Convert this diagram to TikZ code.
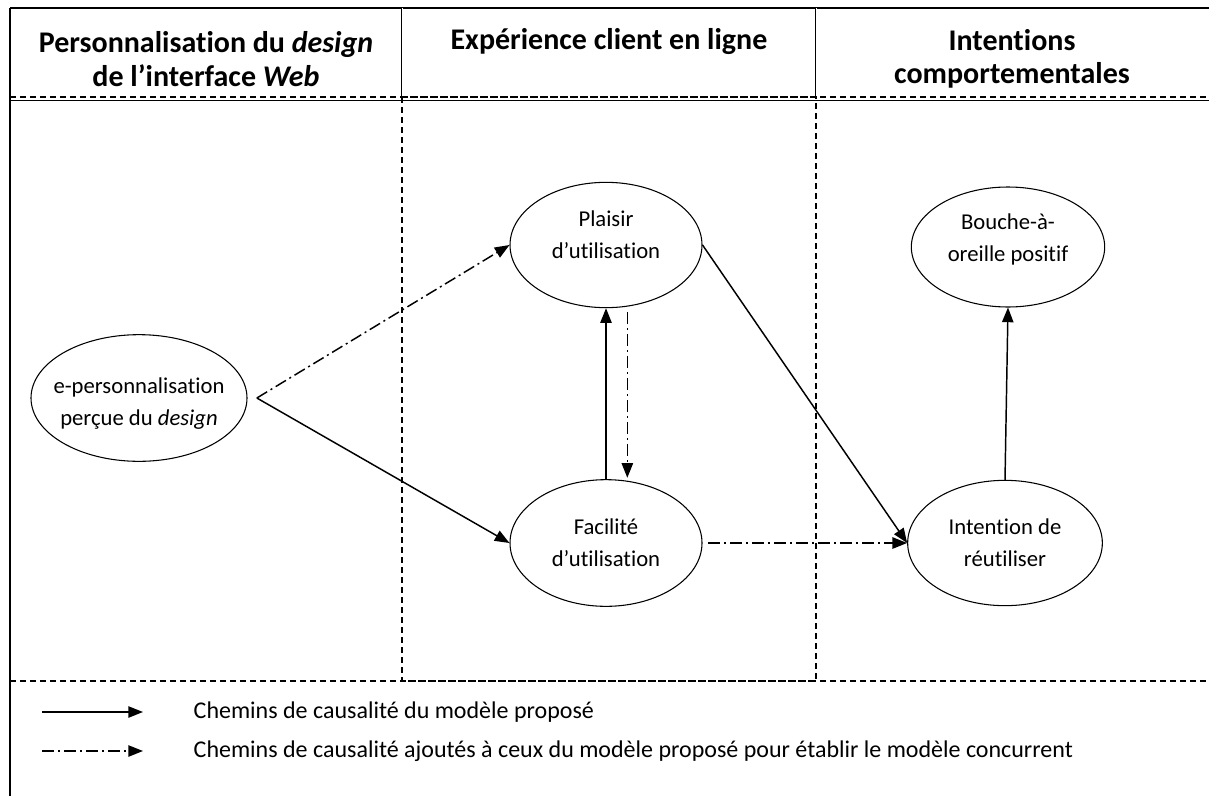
\documentclass[tikz,border=0pt]{standalone}
\usepackage{fontspec}
\setmainfont{Carlito}[Ligatures=NoCommon]
\usetikzlibrary{arrows.meta,shapes.geometric}

\tikzset{
  concept/.style={draw, ellipse, line width=0.8pt, inner sep=0pt},
  conceptText/.style={align=center, font=\fontsize{17}{24}\selectfont},
  header/.style={align=center, font=\bfseries\fontsize{22.5}{25}\selectfont},
  proposed/.style={line width=1.1pt, -{Triangle[length=11pt,width=8.5pt]}},
  added/.style={proposed, dash pattern=on 9pt off 3pt on 1.5pt off 3pt},
  zone/.style={line width=0.9pt, dash pattern=on 4.5pt off 3pt},
  legendText/.style={anchor=west, font=\fontsize{18}{20}\selectfont}
}

\begin{document}
\begin{tikzpicture}[x=0.75pt, y=-0.75pt]
        \useasboundingbox (0,0) rectangle (1209,796);

        % Frame and header row
        \draw[line width=2.2pt] (10,8) -- (1209,8);
        \draw[line width=1.5pt] (10,8) -- (10,796);
        \draw[double, line width=0.6pt] (402,8) -- (402,98);
        \draw[double, line width=0.6pt] (816,8) -- (816,98);
        \draw[zone] (10,97) -- (1209,97);
        \draw[line width=0.6pt] (10,100) -- (1209,100);
        \node[header] (hPerso) at (206,59) {Personnalisation du \textit{design}\\de l'interface \textit{Web}};
        \node[header] (hExp) at (609,42) {Expérience client en ligne};
        \node[header] (hIntent) at (1012,59) {Intentions\\comportementales};

        % Online experience zone
        \draw[zone, line width=1.3pt] (402,97) rectangle (816,681);
        \draw[zone] (10,681) -- (1209,681);

        % Constructs
        \node[concept, minimum width=162pt, minimum height=95pt,
          label={[conceptText, yshift=-4pt]center:e-personnalisation\\perçue du \textit{design}}] (perso) at (139,398) {};
        \node[concept, minimum width=144pt, minimum height=94pt,
          label={[conceptText, yshift=8pt]center:Plaisir\\d'utilisation}] (plaisir) at (606,245) {};
        \node[concept, minimum width=144pt, minimum height=95pt,
          label={[conceptText]center:Facilité\\d'utilisation}] (facilite) at (606,543) {};
        \node[concept, minimum width=145pt, minimum height=90pt,
          label={[conceptText, yshift=6pt]center:Bouche-à-\\oreille positif}] (bouche) at (1008,247) {};
        \node[concept, minimum width=146pt, minimum height=94pt,
          label={[conceptText]center:Intention de\\réutiliser}] (intention) at (1005,543) {};

        % Causal paths
        \draw[added] ([xshift=7pt]perso.east) -- (plaisir.west);
        \draw[proposed] ([xshift=7pt]perso.east) -- (facilite.west);
        \draw[proposed] (facilite.north) -- (plaisir.south);
        \draw[added] ([xshift=16pt,yshift=-3pt]plaisir.south) -- ([xshift=16pt,yshift=1pt]facilite.north);
        \draw[proposed] (plaisir.east) -- (intention.west);
        \draw[added] ([xshift=4pt]facilite.east) -- (intention.west);
        \draw[proposed] (intention.north) -- (bouche.south);

        % Legend
        \coordinate (l1a) at (42,712);
        \coordinate (l1b) at (143,712);
        \coordinate (l2a) at (42,751);
        \coordinate (l2b) at (143,751);
        \draw[proposed] (l1a) -- (l1b);
        \draw[added] (l2a) -- (l2b);
        \node[legendText] (leg1) at (189,712) {Chemins de causalité du modèle proposé};
        \node[legendText] (leg2) at (189,751) {Chemins de causalité ajoutés à ceux du modèle proposé pour établir le modèle concurrent};
\end{tikzpicture}
\end{document}
